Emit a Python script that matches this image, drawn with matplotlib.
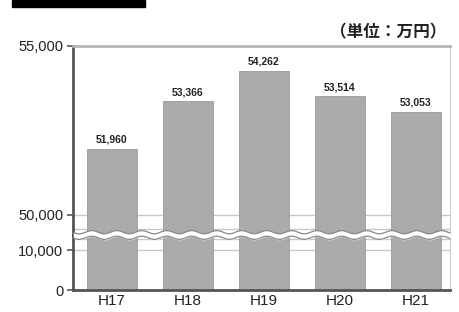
import numpy as np
import matplotlib; matplotlib.use("Agg")
import matplotlib.pyplot as plt
from matplotlib.patches import Rectangle

plt.rcParams['font.family'] = ['Liberation Sans', 'Noto Sans CJK JP', 'DejaVu Sans']

years = ["H17", "H18", "H19", "H20", "H21"]
values = [51960, 53366, 54262, 53514, 53053]
value_labels = ["51,960", "53,366", "54,262", "53,514", "53,053"]
upper_ticks = [50000, 55000]
lower_ticks = [0, 10000]

W, H = 460, 312
fig = plt.figure(figsize=(W/100, H/100), dpi=100)

def fx(px): return px / W
def fy(py): return 1 - py / H

left, right = 73, 450
top, brk, bottom = 46, 235, 290
bar_c = "#ababab"
grid_c = "#c8c8c8"
x = np.arange(len(years))

ax_up = fig.add_axes([fx(left), fy(brk), fx(right - left), fy(top) - fy(brk)])
ax_lo = fig.add_axes([fx(left), fy(bottom), fx(right - left), fy(brk) - fy(bottom)])

for ax in (ax_up, ax_lo):
    ax.bar(x, values, width=0.66, color=bar_c, edgecolor="#9a9a9a", linewidth=0.6, zorder=2)
    ax.set_xlim(-0.51, 4.45)
    ax.tick_params(axis="y", length=4, width=1.2, color="#555555", labelsize=10.5,
                   pad=3, labelcolor="#222222")
    ax.spines["right"].set_color("#cfcfcf")
    ax.spines["left"].set_color("#555555")
    ax.spines["left"].set_linewidth(2)

# upper part
ax_up.set_ylim(49400, 55000)
ax_up.set_yticks(upper_ticks)
ax_up.set_yticklabels([f"{v:,}" for v in upper_ticks])
ax_up.axhline(50000, color=grid_c, lw=1, zorder=1)
ax_up.axhline(49580, color=grid_c, lw=1, zorder=1)
ax_up.spines["top"].set_color("#b5b5b5")
ax_up.spines["top"].set_linewidth(2)
ax_up.spines["bottom"].set_visible(False)
ax_up.set_xticks([])
for xi, v, lab in zip(x, values, value_labels):
    ax_up.text(xi, v + 120, lab, ha="center", va="bottom", fontsize=7.5,
               color="#222222", weight="bold")

# lower part
ax_lo.set_ylim(0, 13800)
ax_lo.set_yticks(lower_ticks)
ax_lo.set_yticklabels([f"{v:,}" for v in lower_ticks])
ax_lo.axhline(10000, color=grid_c, lw=1, zorder=1)
ax_lo.axhline(12800, color=grid_c, lw=1, zorder=1)
ax_lo.spines["top"].set_visible(False)
ax_lo.spines["bottom"].set_color("#555555")
ax_lo.spines["bottom"].set_linewidth(2)
ax_lo.set_xticks(x)
ax_lo.set_xticklabels(years, fontsize=11, color="#222222")
ax_lo.tick_params(axis="x", length=0, pad=3)

# wavy break across plot
ov = fig.add_axes([0, 0, 1, 1], facecolor="none")
ov.set_xlim(0, W); ov.set_ylim(H, 0); ov.axis("off")
xs = np.linspace(left + 1, right, 400)
wave = 1.6 * np.sin((xs - left) / 25 * 2 * np.pi)
ov.fill_between(xs, brk - 2.5 + wave, brk + 2.5 + wave, color="white", zorder=3)
ov.plot(xs, brk - 2.8 + wave, color="#888888", lw=0.9, zorder=4)
ov.plot(xs, brk + 2.8 + wave, color="#888888", lw=0.9, zorder=4)

# header block and unit
ov.add_patch(Rectangle((12, 0), 133, 7, color="black"))
ov.text(446, 32, "（単位：万円）", ha="right", va="center", fontsize=12,
        family=["Noto Sans CJK JP", "DejaVu Sans"], color="#222222", weight="bold")

fig.savefig("out.png", dpi=100)
